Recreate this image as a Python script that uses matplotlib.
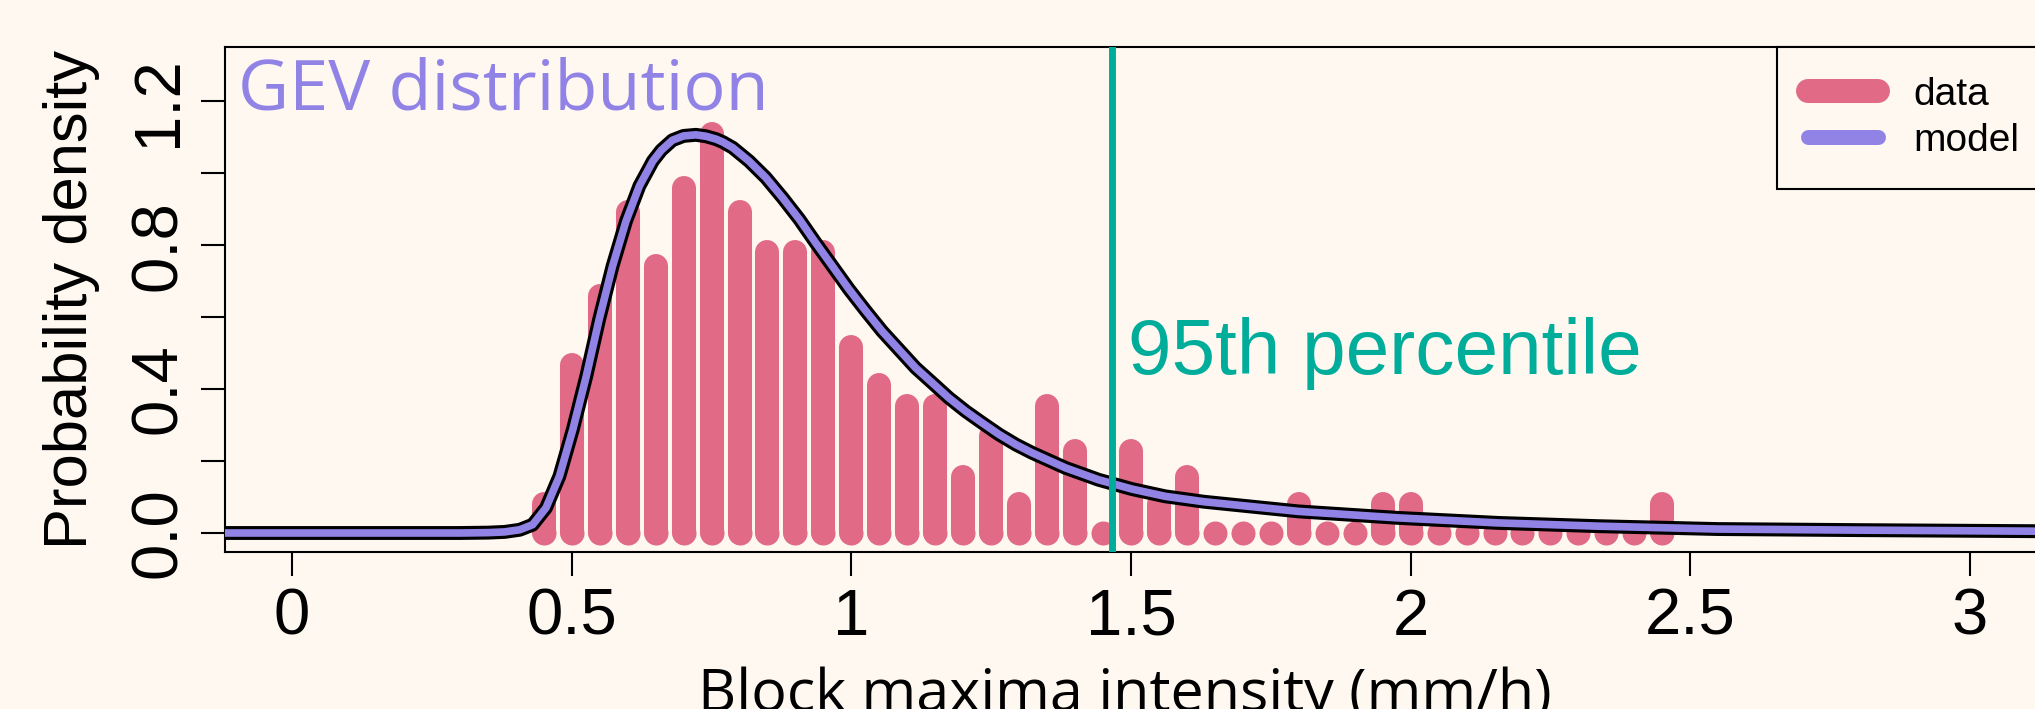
import numpy as np
import matplotlib
matplotlib.use('Agg')
import matplotlib.pyplot as plt
from matplotlib.lines import Line2D

# histogram (density), bin centres every 0.05
bin_mid = [0.45, 0.50, 0.55, 0.60, 0.65, 0.70, 0.75, 0.80, 0.85, 0.90,
           0.95, 1.00, 1.05, 1.10, 1.15, 1.20, 1.25, 1.30, 1.35, 1.40,
           1.45, 1.50, 1.55, 1.60, 1.65, 1.70, 1.75, 1.80, 1.85, 1.90,
           1.95, 2.00, 2.05, 2.10, 2.15, 2.20, 2.25, 2.30, 2.35, 2.40, 2.45]
density = [0.082, 0.466, 0.659, 0.892, 0.742, 0.959, 1.109, 0.892, 0.781, 0.781,
           0.781, 0.518, 0.411, 0.353, 0.353, 0.157, 0.270, 0.082, 0.353, 0.227,
           0.0, 0.227, 0.082, 0.157, 0.0, 0.0, 0.0, 0.082, 0.0, 0.0,
           0.082, 0.082, 0.0, 0.0, 0.0, 0.0, 0.0, 0.0, 0.0, 0.0, 0.082]

# fitted GEV density
model_x = [-0.12, 0.30, 0.35, 0.38, 0.407, 0.43, 0.454, 0.478, 0.502, 0.526,
           0.549, 0.573, 0.597, 0.621, 0.645, 0.66, 0.68, 0.70, 0.722, 0.74,
           0.758, 0.77, 0.788, 0.817, 0.847, 0.877, 0.907, 0.936, 0.966, 0.996,
           1.026, 1.055, 1.085, 1.115, 1.145, 1.174, 1.204, 1.234, 1.264, 1.294,
           1.323, 1.383, 1.442, 1.502, 1.561, 1.63, 1.80, 1.978, 2.157, 2.335,
           2.549, 2.80, 3.12]
model_y = [0.0, 0.0, 0.001, 0.003, 0.009, 0.023, 0.070, 0.158, 0.288, 0.436,
           0.594, 0.742, 0.867, 0.965, 1.034, 1.064, 1.092, 1.104, 1.107, 1.103,
           1.095, 1.087, 1.071, 1.034, 0.988, 0.932, 0.872, 0.807, 0.742, 0.677,
           0.617, 0.561, 0.510, 0.459, 0.417, 0.376, 0.339, 0.306, 0.274, 0.246,
           0.223, 0.181, 0.148, 0.122, 0.102, 0.087, 0.060, 0.042, 0.028, 0.019,
           0.011, 0.008, 0.005]

p95 = 1.466

xticks = [0, 0.5, 1, 1.5, 2, 2.5, 3]
xtick_labels = ['0', '0.5', '1', '1.5', '2', '2.5', '3']
yticks = [0, 0.2, 0.4, 0.6, 0.8, 1.0, 1.2]
ytick_labels = ['0.0', '', '0.4', '', '0.8', '', '1.2']

pink = '#E16A86'
purple = '#9183E6'
teal = '#00AD9A'
bg = '#FFF8F1'

fig = plt.figure(figsize=(20.35, 7.09), dpi=100, facecolor=bg)
ax = fig.add_axes([225/2035, 1-551.7/709, (2037-225)/2035, (551.7-46.7)/709])
ax.set_facecolor(bg)

bar_lw = 17.3
ax.vlines(bin_mid, 0, density, colors=pink, linewidth=bar_lw, capstyle='round', zorder=2)
ax.plot(bin_mid, np.zeros(len(bin_mid)), 'o', ms=bar_lw, mew=0, color=pink, zorder=2)

ax.plot(model_x, model_y, color='black', lw=10, solid_joinstyle='round', solid_capstyle='butt', zorder=3)
ax.plot(model_x, model_y, color=purple, lw=5.5, solid_joinstyle='round', solid_capstyle='butt', zorder=4)

ax.axvline(p95, color=teal, lw=5, zorder=5)

ax.text(-0.0975, 1.178, 'GEV distribution', color=purple, fontsize=50.7,
        family='Open Sans', ha='left', va='baseline')
ax.text(1.495, 0.442, '95th percentile', color=teal, fontsize=56.3,
        family='Liberation Sans', ha='left', va='baseline', zorder=6)

ax.set_xlim(-0.12, 3.12)
ax.set_ylim(-0.052, 1.352)
ax.set_xticks(xticks)
ax.set_xticklabels(xtick_labels, family='Liberation Sans', fontsize=47)
ax.set_yticks(yticks)
ax.set_yticklabels(ytick_labels, family='Liberation Sans', fontsize=47,
                   rotation=90, va='center')
ax.tick_params(direction='out', length=17, width=1.5, color='black')
ax.tick_params(axis='x', pad=9)
ax.tick_params(axis='y', pad=9)
for s in ax.spines.values():
    s.set_linewidth(1.5)
    s.set_color('black')

ax.set_xlabel('Block maxima intensity (mm/h)', family='Open Sans', fontsize=42.7, labelpad=13.5)
ax.xaxis.label.set_x(0.4964)
ax.set_ylabel('Probability density', family='Liberation Sans', fontsize=44.3, labelpad=21)

handles = [Line2D([], [], color=pink, lw=17.3, solid_capstyle='round'),
           Line2D([], [], color=purple, lw=10.8, solid_capstyle='round')]
leg = ax.legend(handles, ['data', 'model'], loc='upper right', bbox_to_anchor=(1.0072, 1.0),
                borderaxespad=0, prop={'family': 'Liberation Sans', 'size': 28},
                handlelength=1.8, handletextpad=0.925, borderpad=0.78, labelspacing=0.25,
                fancybox=False, framealpha=1, facecolor=bg, edgecolor='black')
leg.get_frame().set_linewidth(1.5)
leg.set_zorder(10)

fig.savefig('out.png', dpi=100, facecolor=bg)
